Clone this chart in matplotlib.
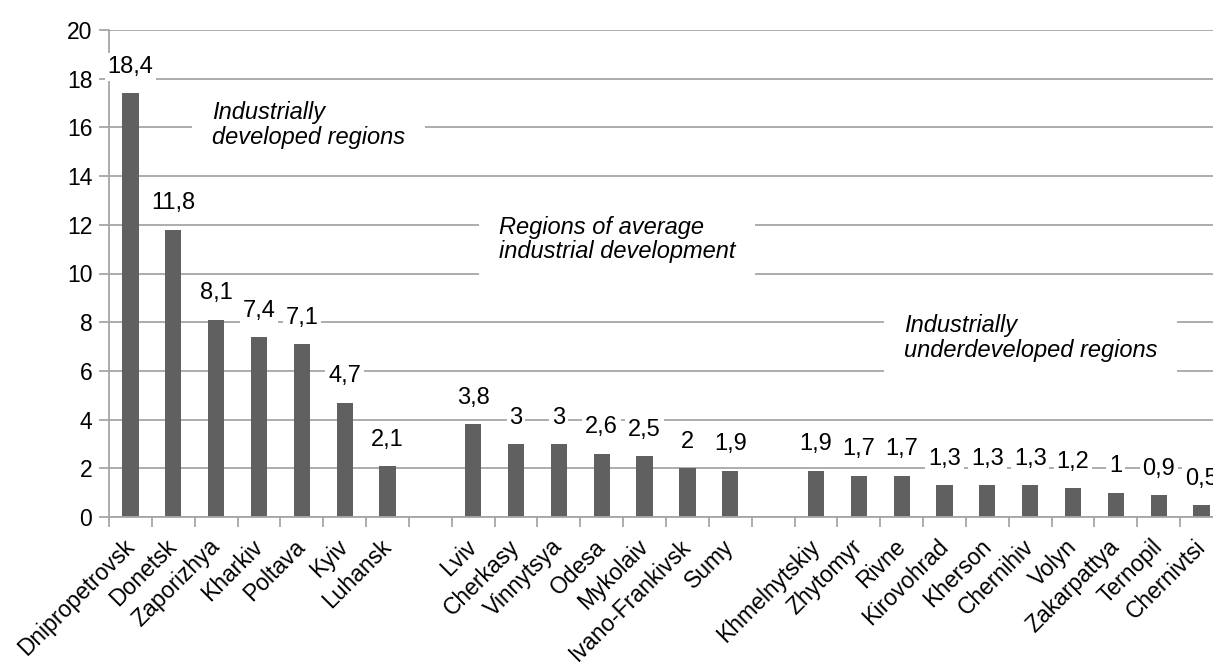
import matplotlib.pyplot as plt
from matplotlib.transforms import ScaledTranslation

plt.rcParams["font.family"] = ["Liberation Sans", "DejaVu Sans"]

# regions, with empty slots between the three groups
regions = ["Dnipropetrovsk", "Donetsk", "Zaporizhya", "Kharkiv", "Poltava", "Kyiv", "Luhansk", "",
           "Lviv", "Cherkasy", "Vinnytsya", "Odesa", "Mykolaiv", "Ivano-Frankivsk", "Sumy", "",
           "Khmelnytskiy", "Zhytomyr", "Rivne", "Kirovohrad", "Kherson", "Chernihiv", "Volyn",
           "Zakarpattya", "Ternopil", "Chernivtsi"]
values = [17.4, 11.8, 8.1, 7.4, 7.1, 4.7, 2.1, 0,
          3.8, 3.0, 3.0, 2.6, 2.5, 2.0, 1.9, 0,
          1.9, 1.7, 1.7, 1.3, 1.3, 1.3, 1.2, 1.0, 0.9, 0.5]
labels = ["18,4", "11,8", "8,1", "7,4", "7,1", "4,7", "2,1", "",
          "3,8", "3", "3", "2,6", "2,5", "2", "1,9", "",
          "1,9", "1,7", "1,7", "1,3", "1,3", "1,3", "1,2", "1", "0,9", "0,5"]
groups = ["Industrially\ndeveloped regions",
          "Regions of average\nindustrial development",
          "Industrially\nunderdeveloped regions"]
group_pos = [(1.9, 16.1), (8.6, 11.4), (18.05, 7.35)]

W, H = 1213, 664
fig = plt.figure(figsize=(W / 100, H / 100), dpi=100, facecolor="w")
ax = fig.add_axes([109 / W, (H - 517) / H, (1223 - 109) / W, (517 - 30) / H])

x = list(range(len(regions)))
ax.bar(x, values, width=0.38, color="#606060", zorder=2)

ax.set_xlim(-0.5, len(regions) - 0.5)
ax.set_ylim(0, 20)
ax.set_yticks(range(0, 21, 2))
ax.yaxis.grid(True, color="#a6a6a6", linewidth=1.3, zorder=0)
ax.set_axisbelow(True)

for s in ["top", "right"]:
    ax.spines[s].set_visible(False)
for s in ["left", "bottom"]:
    ax.spines[s].set_color("#a6a6a6")
    ax.spines[s].set_linewidth(1.3)

# ticks on category boundaries, labels on centres
ax.set_xticks([i - 0.5 for i in range(len(regions) + 1)], minor=False)
ax.set_xticklabels([])
ax.set_xticks(x, minor=True)
ax.set_xticklabels(regions, minor=True, rotation=45, ha="right", rotation_mode="anchor", fontsize=16.5)
ax.tick_params(axis="x", which="minor", length=0, pad=13)
ax.tick_params(axis="x", which="major", length=7, color="#a6a6a6", width=1.3)
ax.tick_params(axis="y", length=7, color="#a6a6a6", width=1.3, labelsize=16.5, pad=5)
shift = ScaledTranslation(-0.08, 0, fig.dpi_scale_trans)
for t in ax.get_xticklabels(minor=True):
    t.set_transform(t.get_transform() + shift)

for xi, v, lab in zip(x, values, labels):
    if lab:
        ax.annotate(lab, (xi, v), xytext=(0, 11), textcoords="offset points", ha="center", va="bottom",
                    fontsize=17, zorder=3,
                    bbox=dict(boxstyle="square,pad=0.12", fc="white", ec="none"))

for txt, (gx, gy) in zip(groups, group_pos):
    ax.text(gx, gy, txt, fontsize=17, style="italic", ha="left", va="center", linespacing=1.1, zorder=3,
            bbox=dict(boxstyle="square,pad=0.85", fc="white", ec="none"))

fig.savefig("out.png", dpi=100)
